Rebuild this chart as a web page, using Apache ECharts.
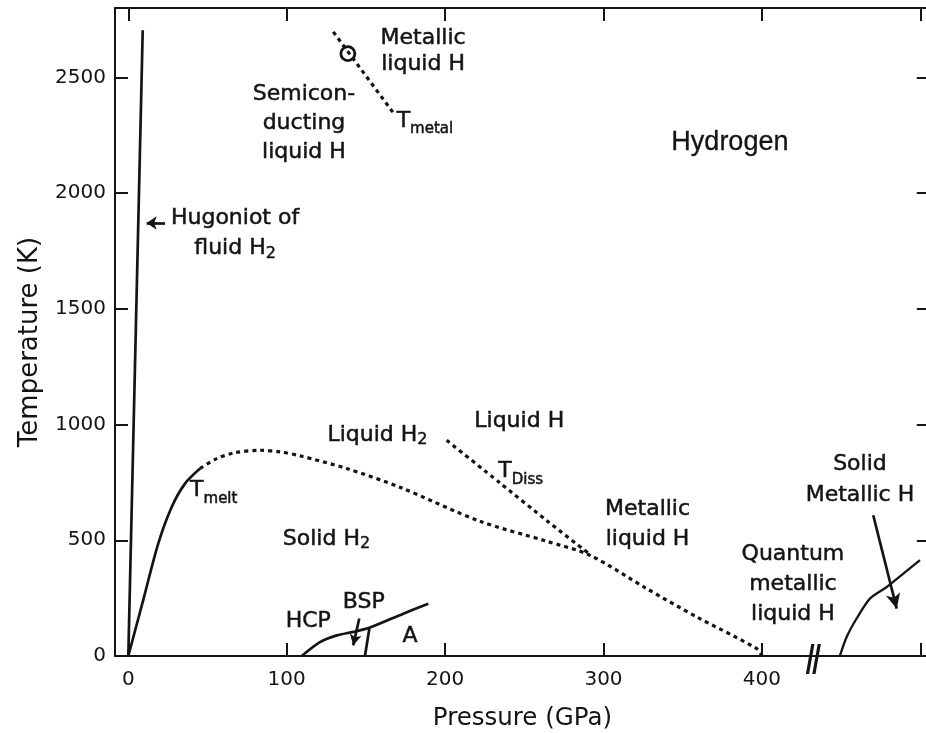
<!DOCTYPE html>
<html><head><meta charset="utf-8">
<script src="https://cdn.jsdelivr.net/npm/echarts@6/dist/echarts.min.js"></script>
<style>html,body{margin:0;padding:0;background:#fff}#c{width:926px;height:733px}</style>
</head><body><div id="c"></div>
<script>
// ---- axis ticks ----
const xTicks = [0, 100, 200, 300, 400, 500];
const xTickLabels = [0, 100, 200, 300, 400];
const yTicks = [0, 500, 1000, 1500, 2000, 2500];

// ---- curves: [pressure GPa, temperature K] ----
const hugoniot = [[0, 0], [9.1, 2704]];
const meltSolid = [[0, 0], [9.5, 244], [18.9, 486], [27.4, 644], [35.8, 745], [45.3, 810]];
const meltDashed = [[45.3, 810], [55.8, 853], [66.3, 877], [83.1, 889], [95.7, 882], [108.4, 865],
  [137.9, 810], [171.5, 729], [222, 582], [264.1, 496], [291.5, 435], [327.3, 291],
  [358.8, 169], [396.7, 32], [400, 0]];
const tDiss = [[201, 932], [234.6, 748], [264, 586], [292, 436]];
const tMetal = [[129.4, 2697], [168.4, 2337]];
const tMetalPoint = [[138.6, 2603]];
const hcpLine = [[109.5, 0], [121, 60], [131.6, 89], [142, 104], [152.6, 123], [173.6, 183], [189.4, 226]];
const bspALine = [[149.4, 0], [152.2, 120]];
const solidMetal = [[449.2, 0], [453.5, 82], [459.8, 162], [468.2, 248], [478.8, 298], [489.3, 356], [499.8, 414]];
const hugoniotArrow = [[23.2, 1871], [11.6, 1871]];
const bspArrow = [[145.8, 162], [142, 46]];
const solidMetalArrow = [[470.3, 608], [485.1, 205]];
const axisBreak = [[432.5, 0]];

// ---- text annotations (anchor = top of text block) ----
const annotations = [
  { text: '{m|Metallic}\n{m|liquid H}', p: 186.1, t: 2716, align: 'center', lh: 26 },
  { text: '{m|Semicon-}\n{m|ducting}\n{m|liquid H}', p: 110.9, t: 2476, align: 'center', lh: 29 },
  { text: '{m|T}{st|metal}', p: 169.4, t: 2360, align: 'left', lh: 26 },
  { text: '{big|Hydrogen}', p: 379.8, t: 2277, align: 'center', lh: 30 },
  { text: '{m|Hugoniot of}\n{m|fluid H}{s2|2}', p: 67.4, t: 1938, align: 'center', lh: 30 },
  { text: '{m|Liquid H}{s2|2}', p: 157.3, t: 1002.6, align: 'center', lh: 26 },
  { text: '{m|Liquid H}', p: 246.8, t: 1060.5, align: 'center', lh: 26 },
  { text: '{m|T}{st|Diss}', p: 233.6, t: 844.4, align: 'left', lh: 26 },
  { text: '{m|T}{st|melt}', p: 39, t: 761.5, align: 'left', lh: 26 },
  { text: '{m|Solid H}{s2|2}', p: 125.1, t: 552.7, align: 'center', lh: 26 },
  { text: '{m|Metallic}\n{m|liquid H}', p: 327.8, t: 680, align: 'center', lh: 30 },
  { text: '{m|Quantum}\n{m|metallic}\n{m|liquid H}', p: 419.6, t: 485.7, align: 'center', lh: 30 },
  { text: '{m|Solid}\n{m|Metallic H}', p: 461.9, t: 877.7, align: 'center', lh: 31.5 },
  { text: '{m|HCP}', p: 113.6, t: 199.7, align: 'center', lh: 26 },
  { text: '{m|BSP}', p: 148.7, t: 278.3, align: 'center', lh: 26 },
  { text: '{m|A}', p: 177.8, t: 134.8, align: 'center', lh: 26 }
];

const INK = '#141414';
const FONT = 'DejaVu Sans';

function rich(lh) {
  const base = { fontFamily: FONT, color: INK, textBorderColor: INK, textBorderWidth: 0.5, verticalAlign: 'top', lineHeight: lh, opacity: 1 };
  return {
    m: Object.assign({}, base, { fontSize: 22 }),
    s2: Object.assign({}, base, { fontSize: 16, padding: [8, 0, 0, 0] }),
    st: Object.assign({}, base, { fontSize: 15, padding: [12, 0, 0, 0] }),
    big: Object.assign({}, base, { fontSize: 27, fontFamily: 'Liberation Sans', textBorderWidth: 0.3 })
  };
}

const solidStyle = { color: INK, width: 2.7, type: 'solid' };
const dotStyle = { color: INK, width: 3.2, type: [4, 4] };

function lineSeries(data, style, extra) {
  return Object.assign({
    type: 'line', data: data, symbol: 'none', lineStyle: style,
    xAxisIndex: 0, yAxisIndex: 0, silent: true, z: 3
  }, extra || {});
}

function arrow(pair, size) {
  return [
    { coord: pair[0], symbol: 'none' },
    { coord: pair[1], symbol: 'arrow', symbolSize: size }
  ];
}

const axisLineStyle = { color: INK, width: 2 };
const tickStyle = { color: INK, width: 2 };
const tickFont = { fontSize: 20, fontFamily: FONT, color: INK };
const plain = function (v) { return String(v); };

const chart = echarts.init(document.getElementById('c'), null, { renderer: 'canvas' });
chart.setOption({
  animation: false,
  backgroundColor: '#fff',
  grid: { left: 115, top: 8, width: 814.8, height: 648, containLabel: false, outerBoundsMode: 'none' },
  xAxis: [
    {
      type: 'value', min: -8.4, max: 506, position: 'bottom',
      axisLine: { show: true, onZero: false, lineStyle: axisLineStyle },
      axisTick: { show: true, inside: true, length: 13, customValues: xTicks, lineStyle: tickStyle },
      axisLabel: Object.assign({ show: true, customValues: xTickLabels, margin: 14, formatter: plain }, tickFont),
      splitLine: { show: false },
      name: 'Pressure (GPa)', nameLocation: 'middle', nameGap: 50,
      nameTextStyle: { fontSize: 24.5, fontFamily: FONT, color: INK }
    },
    {
      type: 'value', min: -8.4, max: 506, position: 'top',
      axisLine: { show: true, onZero: false, lineStyle: axisLineStyle },
      axisTick: { show: true, inside: true, length: 13, customValues: xTicks, lineStyle: tickStyle },
      axisLabel: { show: false },
      splitLine: { show: false }
    }
  ],
  yAxis: [
    {
      type: 'value', min: 0, max: 2800, position: 'left',
      axisLine: { show: true, onZero: false, lineStyle: axisLineStyle },
      axisTick: { show: true, inside: true, length: 13, customValues: yTicks, lineStyle: tickStyle },
      axisLabel: Object.assign({ show: true, customValues: yTicks, margin: 9, formatter: plain }, tickFont),
      splitLine: { show: false },
      name: 'Temperature (K)', nameLocation: 'middle', nameGap: 72,
      nameTextStyle: { fontSize: 26, fontFamily: FONT, color: INK, padding: [0, 20, 0, 0] }
    },
    {
      type: 'value', min: 0, max: 2800, position: 'right',
      axisLine: { show: true, onZero: false, lineStyle: axisLineStyle },
      axisTick: { show: true, inside: true, length: 13, customValues: yTicks, lineStyle: tickStyle },
      axisLabel: { show: false },
      splitLine: { show: false }
    }
  ],
  series: [
    lineSeries(hugoniot, solidStyle, {
      markLine: {
        silent: true, animation: false,
        label: { show: false },
        lineStyle: { color: INK, width: 2.7, type: 'solid' },
        data: [arrow(hugoniotArrow, [10, 10]), arrow(bspArrow, [9, 11]), arrow(solidMetalArrow, [11, 15])]
      }
    }),
    lineSeries(meltSolid, solidStyle, { smooth: 0.3 }),
    lineSeries(meltDashed, dotStyle, { smooth: 0.3 }),
    lineSeries(tDiss, dotStyle, { smooth: 0.2 }),
    lineSeries(tMetal, dotStyle),
    lineSeries(hcpLine, solidStyle, { smooth: 0.3 }),
    lineSeries(bspALine, solidStyle),
    lineSeries(solidMetal, { color: INK, width: 2.3, type: 'solid' }, { smooth: 0.25 }),
    {
      type: 'scatter', data: tMetalPoint, symbol: 'circle', symbolSize: 14,
      itemStyle: { color: 'rgba(0,0,0,0)', borderColor: INK, borderWidth: 2.8, opacity: 1 }, silent: true, z: 4
    },
    {
      type: 'scatter', data: axisBreak, clip: false, silent: true, z: 6,
      symbol: 'path://M5,0 L8,0 L3,24 L0,24 Z M11,0 L14,0 L9,24 L6,24 Z',
      symbolSize: [15, 30], symbolOffset: [0, 3],
      itemStyle: { color: INK, opacity: 1 }
    },
    {
      type: 'scatter', silent: true, z: 10, symbolSize: 1, clip: false,
      itemStyle: { color: 'rgba(0,0,0,0)', opacity: 1 },
      data: annotations.map(function (a) {
        return {
          value: [a.p, a.t],
          label: {
            show: true, position: 'inside', align: a.align, verticalAlign: 'top',
            color: INK, opacity: 1,
            formatter: function () { return a.text; },
            rich: rich(a.lh)
          }
        };
      })
    }
  ]
});
</script>
</body></html>
